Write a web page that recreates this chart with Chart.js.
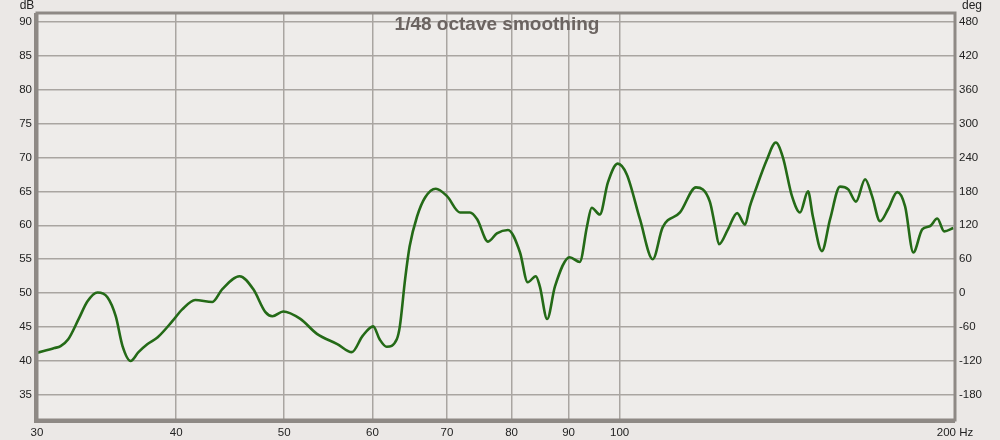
<!DOCTYPE html>
<html>
<head>
<meta charset="utf-8">
<script src="https://cdn.jsdelivr.net/npm/chart.js@4"></script>
<style>
  html, body { margin: 0; padding: 0; background: #ebe8e6; }
  #wrap { width: 1000px; height: 440px; }
</style>
</head>
<body>
<div id="wrap"><canvas id="fr"></canvas></div>
<script>
// frequency (Hz) and level (dB)
const freqs = [30.0, 31.1, 31.5, 32.0, 32.7, 33.3, 34.0, 34.7, 35.3, 35.8, 36.4, 37.0, 37.7, 38.5, 39.7,
  40.5, 41.6, 43.1, 44.0, 45.6, 46.9, 48.1, 48.8, 49.9, 51.7, 53.5, 55.8, 57.5, 58.8, 60.1, 60.9, 61.8,
  63.1, 63.5, 64.2, 64.8, 65.8, 66.9, 68.4, 70.0, 71.9, 73.4, 74.5, 76.2, 77.6, 79.4, 81.4, 82.7, 84.1,
  84.8, 86.1, 87.5, 90.2, 92.1, 93.5, 94.4, 96.0, 97.6, 99.6, 101.5, 104.3, 107.1, 109.3, 113.3, 117.1,
  120.5, 121.8, 122.8, 125.1, 127.5, 129.6, 130.9, 132.3, 135.6, 138.1, 140.1, 142.8, 145.2, 147.6,
  149.1, 151.9, 154.5, 157.7, 160.4, 163.0, 166.1, 168.5, 171.3, 174.2, 177.5, 180.4, 183.5, 186.9,
  190.0, 192.8, 195.6, 199.3];
const levels = [41.2, 41.9, 42.2, 43.2, 46.2, 48.8, 50.1, 49.4, 46.6, 42.2, 40.0, 41.3, 42.5, 43.5, 45.9,
  47.6, 49.0, 48.7, 50.6, 52.5, 50.6, 47.2, 46.6, 47.3, 46.2, 44.0, 42.5, 41.3, 43.7, 45.1, 43.2, 42.1,
  43.2, 45.1, 52.1, 56.9, 61.3, 64.1, 65.4, 64.3, 61.9, 61.9, 60.9, 57.6, 58.8, 59.3, 56.0, 51.6, 52.5,
  51.0, 46.2, 51.0, 55.3, 54.6, 59.9, 62.6, 61.6, 66.3, 69.1, 67.5, 60.9, 55.0, 59.7, 61.9, 65.6,
  63.5, 59.9, 57.2, 59.4, 61.8, 60.1, 62.8, 65.0, 69.7, 72.2, 70.1, 64.3, 61.9, 65.0,
  61.3, 56.2, 60.9, 65.7, 65.3, 63.5, 66.8, 64.3, 60.6, 62.4, 64.9, 62.8, 56.0, 59.4,
  59.9, 61.0, 59.1, 59.6];

const xTicks = [30, 40, 50, 60, 70, 80, 90, 100, 200];
const dbTicks = [35, 40, 45, 50, 55, 60, 65, 70, 75, 80, 85, 90];
const degTicks = [-180, -120, -60, 0, 60, 120, 180, 240, 300, 360, 420, 480];

const points = freqs.map((f, i) => ({ x: f, y: levels[i] }));

const frame = {
  id: 'frame',
  beforeDraw(chart) {
    const { ctx, chartArea: a } = chart;
    ctx.save();
    ctx.fillStyle = '#eeecea';
    ctx.fillRect(a.left, a.top, a.right - a.left, a.bottom - a.top);
    ctx.restore();
  },
  afterDatasetsDraw(chart) {
    const { ctx, chartArea: a } = chart;
    ctx.save();
    ctx.strokeStyle = '#8e8985';
    ctx.lineWidth = 3;
    ctx.strokeRect(a.left, a.top, a.right - a.left, a.bottom - a.top);
    ctx.lineWidth = 4;
    ctx.beginPath();
    ctx.moveTo(a.left - 1, a.top);
    ctx.lineTo(a.left - 1, a.bottom + 1);
    ctx.lineTo(a.right, a.bottom + 1);
    ctx.stroke();

    ctx.fillStyle = '#6b6461';
    ctx.font = 'bold 19px "Liberation Sans", Arial, sans-serif';
    ctx.textAlign = 'center';
    ctx.textBaseline = 'middle';
    ctx.fillText('1/48 octave smoothing', 497, 25);

    ctx.fillStyle = '#222';
    ctx.font = '12px "Liberation Sans", Arial, sans-serif';
    ctx.fillText('dB', 27, 6);
    ctx.fillText('deg', 972, 6);
    ctx.restore();
  }
};

new Chart(document.getElementById('fr'), {
  type: 'scatter',
  data: {
    datasets: [{
      data: points,
      showLine: true,
      borderColor: '#246a17',
      borderWidth: 2.6,
      pointRadius: 0,
      cubicInterpolationMode: 'monotone',
      yAxisID: 'y'
    }]
  },
  options: {
    responsive: true,
    maintainAspectRatio: false,
    animation: false,
    layout: { padding: { top: 13, right: 0, bottom: 0, left: 0 } },
    plugins: { legend: { display: false }, tooltip: { enabled: false } },
    scales: {
      x: {
        type: 'logarithmic',
        min: 30,
        max: 200,
        afterBuildTicks: s => { s.ticks = xTicks.map(v => ({ value: v })); },
        afterFit: s => { s.height = 20; },
        grid: { color: '#a9a5a1', lineWidth: 1.5, drawTicks: false },
        border: { display: false },
        ticks: {
          autoSkip: false,
          maxRotation: 0,
          padding: 6,
          color: '#222',
          font: { family: '"Liberation Sans", Arial, sans-serif', size: 11.5 },
          callback: v => (v === 200 ? '200 Hz' : String(v))
        }
      },
      y: {
        position: 'left',
        min: 31.3,
        max: 91.3,
        afterBuildTicks: s => { s.ticks = dbTicks.map(v => ({ value: v })); },
        afterFit: s => { s.width = 37; },
        grid: { color: '#a9a5a1', lineWidth: 1.5, drawTicks: false },
        border: { display: false },
        ticks: {
          padding: 5,
          color: '#222',
          font: { family: '"Liberation Sans", Arial, sans-serif', size: 11.5 }
        }
      },
      deg: {
        position: 'right',
        min: -224.4,
        max: 495.6,
        afterBuildTicks: s => { s.ticks = degTicks.map(v => ({ value: v })); },
        afterFit: s => { s.width = 45; },
        grid: { display: false, drawTicks: false },
        border: { display: false },
        ticks: {
          padding: 4,
          color: '#222',
          font: { family: '"Liberation Sans", Arial, sans-serif', size: 11.5 }
        }
      }
    }
  },
  plugins: [frame]
});
</script>
</body>
</html>
